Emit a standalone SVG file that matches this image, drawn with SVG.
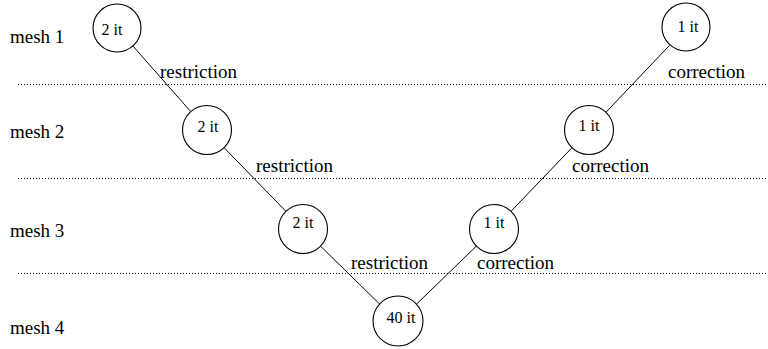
<svg xmlns="http://www.w3.org/2000/svg" width="768" height="349" viewBox="0 0 768 349">
<style>
.lbl{font-size:19px}
.nt{font-size:16px;text-anchor:middle}
.node circle{fill:#fff;stroke:#000;stroke-width:1.1}
.edge{stroke:#000;stroke-width:1;fill:none}
.sep{stroke:#000;stroke-width:1;stroke-dasharray:1 2}
</style>
<rect width="768" height="349" fill="#fff"/>
<g font-family="'Liberation Serif', 'Times New Roman', 'DejaVu Serif', serif" fill="#000">
<g id="levels">
<line class="sep" x1="18" y1="84.5" x2="768" y2="84.5"/>
<line class="sep" x1="18" y1="178.5" x2="768" y2="178.5"/>
<line class="sep" x1="18" y1="273.5" x2="768" y2="273.5"/>
<text class="lbl" x="10" y="43">mesh 1</text>
<text class="lbl" x="10" y="138">mesh 2</text>
<text class="lbl" x="10" y="237">mesh 3</text>
<text class="lbl" x="10" y="334">mesh 4</text>
</g>
<g id="connectors">
<line class="edge" x1="132.9" y1="46" x2="190.4" y2="111.2"/>
<line class="edge" x1="224.4" y1="148" x2="285.6" y2="211"/>
<line class="edge" x1="320.9" y1="246.5" x2="380.1" y2="304.5"/>
<line class="edge" x1="416" y1="304.6" x2="476.8" y2="245.7"/>
<line class="edge" x1="511.3" y1="211" x2="571.7" y2="148"/>
<line class="edge" x1="606.2" y1="112" x2="669.5" y2="45.4"/>
<text class="lbl" x="160" y="78">restriction</text>
<text class="lbl" x="256" y="172">restriction</text>
<text class="lbl" x="351" y="269">restriction</text>
<text class="lbl" x="477" y="269">correction</text>
<text class="lbl" x="572" y="172">correction</text>
<text class="lbl" x="668" y="78">correction</text>
</g>
<g id="n1" class="node"><circle cx="117" cy="28" r="24"/><text class="nt" x="112" y="35">2 it</text></g>
<g id="n2" class="node"><circle cx="207" cy="130" r="24.5"/><text class="nt" x="208" y="132">2 it</text></g>
<g id="n3" class="node"><circle cx="303" cy="229" r="24.5"/><text class="nt" x="303" y="228">2 it</text></g>
<g id="n4" class="node"><circle cx="398" cy="321" r="25"/><text class="nt" x="401" y="323">40 it</text></g>
<g id="n5" class="node"><circle cx="494" cy="229" r="24.5"/><text class="nt" x="494" y="228">1 it</text></g>
<g id="n6" class="node"><circle cx="589" cy="130" r="24.5"/><text class="nt" x="589" y="131">1 it</text></g>
<g id="n7" class="node"><circle cx="686" cy="27" r="24"/><text class="nt" x="688" y="32">1 it</text></g>
</g>
</svg>
